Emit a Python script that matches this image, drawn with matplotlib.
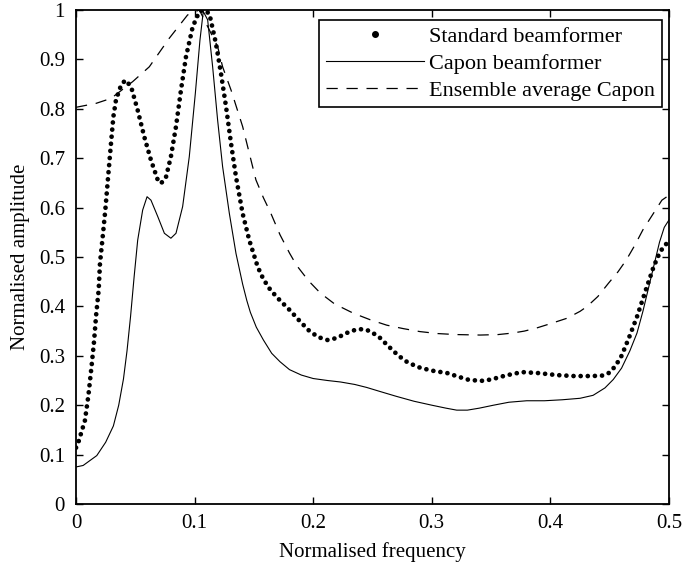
import matplotlib.pyplot as plt
from matplotlib.lines import Line2D
from matplotlib.ticker import FormatStrFormatter

plt.rcParams['font.family'] = ['Liberation Serif', 'DejaVu Serif']

# standard (Bartlett) beamformer spectrum
std_f = [0.0, 0.002, 0.0045, 0.0075, 0.0104, 0.0132, 0.0152, 0.0169, 0.0191, 0.0202,
         0.0225, 0.0247, 0.0273, 0.0295, 0.0315, 0.0337, 0.038, 0.0416, 0.0464, 0.052,
         0.0576, 0.0632, 0.0689, 0.0717, 0.0759, 0.080, 0.0843, 0.0885, 0.0927, 0.0984,
         0.104, 0.1073, 0.1124, 0.118, 0.1222, 0.1265, 0.1307, 0.1349, 0.1405, 0.1461,
         0.1532, 0.158, 0.164, 0.172, 0.18, 0.188, 0.196, 0.204, 0.212, 0.22,
         0.228, 0.236, 0.242, 0.248, 0.256, 0.264, 0.272, 0.28, 0.29, 0.3,
         0.313, 0.322, 0.33, 0.341, 0.35, 0.362, 0.376, 0.39, 0.405, 0.42,
         0.435, 0.444, 0.45, 0.455, 0.46, 0.466, 0.473, 0.48, 0.487, 0.492,
         0.496, 0.5]
std_amp = [0.114, 0.125, 0.145, 0.169, 0.219, 0.281, 0.329, 0.381, 0.433, 0.487,
           0.541, 0.595, 0.669, 0.73, 0.784, 0.818, 0.848, 0.858, 0.845, 0.797,
           0.743, 0.696, 0.656, 0.649, 0.662, 0.703, 0.764, 0.838, 0.905, 0.966,
           0.997, 1.0, 0.993, 0.932, 0.872, 0.804, 0.73, 0.662, 0.588, 0.534,
           0.48, 0.455, 0.433, 0.412, 0.393, 0.372, 0.352, 0.338, 0.332, 0.336,
           0.346, 0.353, 0.354, 0.35, 0.337, 0.318, 0.3, 0.286, 0.276, 0.27,
           0.265, 0.258, 0.252, 0.249, 0.252, 0.26, 0.267, 0.265, 0.261, 0.259,
           0.259, 0.26, 0.266, 0.28, 0.3, 0.335, 0.379, 0.43, 0.48, 0.508,
           0.523, 0.531]

# Capon (MVDR) beamformer spectrum
capon_f = [0.0, 0.006, 0.0175, 0.025, 0.0315, 0.036, 0.04, 0.043, 0.046, 0.049,
           0.052, 0.0562, 0.0599, 0.0632, 0.0689, 0.0745, 0.08, 0.0843, 0.0899, 0.0955,
           0.1006, 0.1045, 0.1073, 0.111, 0.1152, 0.1194, 0.1236, 0.1293, 0.1349, 0.1405,
           0.144, 0.147, 0.152, 0.158, 0.165, 0.172, 0.18, 0.19, 0.2, 0.212, 0.223,
           0.235, 0.245, 0.256, 0.27, 0.285, 0.3, 0.312, 0.321, 0.33, 0.34,
           0.352, 0.365, 0.38, 0.395, 0.41, 0.425, 0.436, 0.446, 0.453, 0.46,
           0.467, 0.473, 0.478, 0.482, 0.487, 0.492, 0.496, 0.5]
capon_amp = [0.075, 0.078, 0.098, 0.125, 0.158, 0.2, 0.253, 0.31, 0.38, 0.46,
             0.534, 0.595, 0.622, 0.615, 0.582, 0.548, 0.538, 0.548, 0.602, 0.703,
             0.831, 0.939, 0.997, 0.98, 0.885, 0.777, 0.683, 0.588, 0.507, 0.445,
             0.412, 0.388, 0.358, 0.332, 0.305, 0.288, 0.272, 0.261, 0.254, 0.25, 0.247,
             0.242, 0.236, 0.228, 0.218, 0.208, 0.2, 0.194, 0.19, 0.19, 0.194,
             0.2, 0.206, 0.209, 0.209, 0.211, 0.214, 0.22, 0.235, 0.252, 0.275,
             0.31, 0.346, 0.39, 0.43, 0.48, 0.53, 0.56, 0.575]

# ensemble-averaged Capon spectrum
ens_f = [0.0, 0.0169, 0.0295, 0.0478, 0.0618, 0.0787, 0.0941, 0.104, 0.1194, 0.1236,
         0.1307, 0.1405, 0.1517, 0.158, 0.164, 0.172, 0.18, 0.186, 0.196, 0.206,
         0.218, 0.234, 0.248, 0.262, 0.276, 0.29, 0.305, 0.32, 0.341, 0.356,
         0.368, 0.378, 0.388, 0.4, 0.414, 0.425, 0.431, 0.44, 0.449, 0.457,
         0.464, 0.471, 0.478, 0.486, 0.494, 0.5]
ens_amp = [0.803, 0.811, 0.821, 0.855, 0.885, 0.943, 0.99, 1.0, 0.926, 0.885,
           0.838, 0.764, 0.656, 0.62, 0.59, 0.545, 0.508, 0.483, 0.452, 0.427,
           0.405, 0.386, 0.373, 0.362, 0.355, 0.349, 0.345, 0.343, 0.342, 0.343,
           0.346, 0.35, 0.356, 0.365, 0.376, 0.39, 0.4, 0.42, 0.447, 0.47,
           0.494, 0.523, 0.555, 0.585, 0.615, 0.625]

fig = plt.figure(figsize=(6.83, 5.67), dpi=100)
ax = fig.add_axes([0.1113, 0.1111, 0.8682, 0.8713])

ax.plot(std_f, std_amp, color='k', lw=3.4, linestyle=(0, (0.01, 1.5)),
        dash_capstyle='round')
ax.plot(capon_f, capon_amp, color='k', lw=0.8)
ax.plot(ens_f, ens_amp, color='k', lw=0.9, linestyle=(0, (9, 7)))

ax.set_xlim(0, 0.5)
ax.set_ylim(0, 1)
ax.set_xticks([0, 0.1, 0.2, 0.3, 0.4, 0.5])
ax.set_yticks([0, 0.1, 0.2, 0.3, 0.4, 0.5, 0.6, 0.7, 0.8, 0.9, 1])
ax.xaxis.set_major_formatter(FormatStrFormatter('%g'))
ax.yaxis.set_major_formatter(FormatStrFormatter('%g'))
ax.tick_params(direction='in', top=True, right=True, length=5, width=1,
               labelsize=15)
ax.tick_params(axis='x', pad=7)
ax.tick_params(axis='y', pad=8)
for s in ax.spines.values():
    s.set_linewidth(1.3)

ax.set_xlabel('Normalised frequency', fontsize=15, labelpad=7)
ax.set_ylabel('Normalised amplitude', fontsize=15, labelpad=6)

handles = [
    Line2D([], [], color='k', marker='o', markersize=4, linestyle='none'),
    Line2D([], [], color='k', lw=0.8),
    Line2D([], [], color='k', lw=0.9, linestyle=(0, (9, 7))),
]
labels = ['Standard beamformer', 'Capon beamformer', 'Ensemble average Capon']
leg = ax.legend(handles, labels, loc='upper right', bbox_to_anchor=(0.988, 0.98),
                fontsize=16, frameon=True, fancybox=False, edgecolor='k',
                framealpha=1, handlelength=4.4, handletextpad=0.25,
                labelspacing=0.28, borderpad=0.3, borderaxespad=0, numpoints=1)
leg.get_frame().set_linewidth(1.2)

fig.savefig('out.png', dpi=100)
